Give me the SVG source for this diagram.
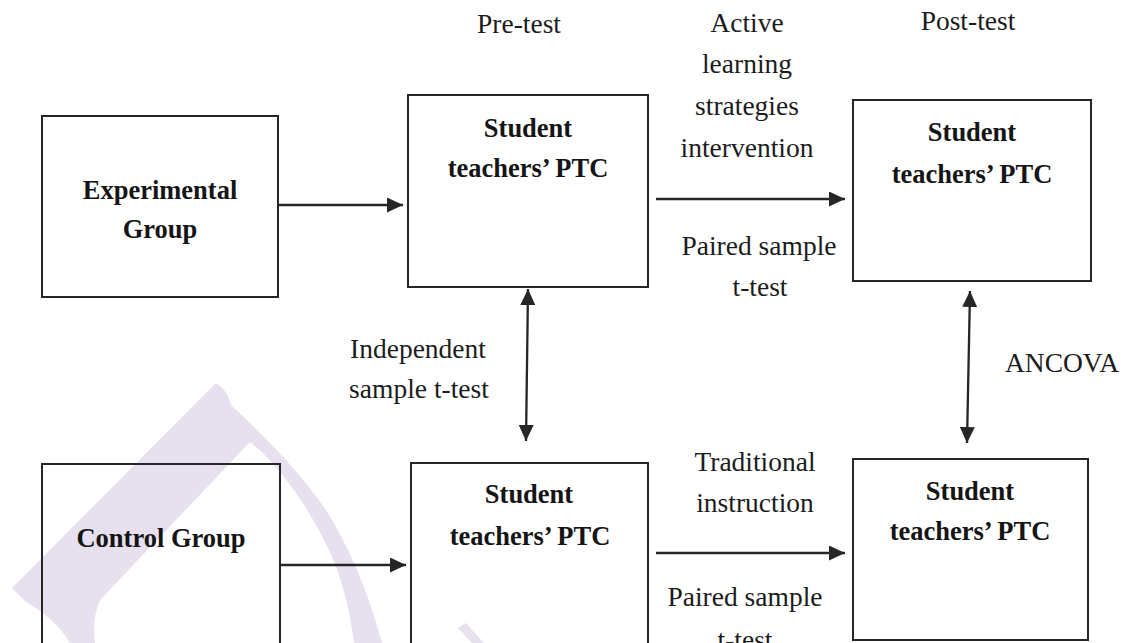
<svg xmlns="http://www.w3.org/2000/svg" width="1126" height="643" viewBox="0 0 1126 643">
  <style>
    .box { fill: none; stroke: #262626; stroke-width: 2; }
    .lbl { font-family: "Liberation Serif", "Times New Roman", serif; font-size: 27.5px; fill: #1c1c1c; text-anchor: middle; }
    .bold { font-family: "Liberation Serif", "Times New Roman", serif; font-size: 26.5px; font-weight: bold; fill: #151515; text-anchor: middle; }
    .conn { stroke: #262626; stroke-width: 2.3; fill: none; }
    .wm { fill: #e6e0ef; }
  </style>
  <defs>
    <marker id="ah" markerUnits="userSpaceOnUse" markerWidth="17" markerHeight="16" viewBox="0 0 17 16" refX="16" refY="7.5" orient="auto-start-reverse">
      <path d="M0,0 L16,7.5 L0,15 Z" fill="#262626"/>
    </marker>
  </defs>
  <rect width="1126" height="643" fill="#ffffff"/>

  <g id="watermark">
    <path class="wm" d="M12,588 L216,383 C223,387 229,395 231,405 C266,438 298,470 326,510 C350,548 368,592 382,643 L354,643 C350,610 342,578 328,548 C312,515 292,483 262,452 L250,442 L100,600 C94,614 93,628 95,643 L70,643 C60,626 44,612 26,602 Z"/>
    <path class="wm" d="M458,628 L466,623 L484,643 L472,643 Z"/>
  </g>

  <g id="connectors">
    <line class="conn" x1="278" y1="205" x2="403" y2="205" marker-end="url(#ah)"/>
    <line class="conn" x1="280" y1="565" x2="406" y2="565" marker-end="url(#ah)"/>
    <line class="conn" x1="656" y1="199" x2="845" y2="199" marker-end="url(#ah)"/>
    <line class="conn" x1="656" y1="553" x2="845" y2="553" marker-end="url(#ah)"/>
    <line class="conn" x1="528" y1="289" x2="526" y2="441" marker-start="url(#ah)" marker-end="url(#ah)"/>
    <line class="conn" x1="970" y1="291" x2="967" y2="443" marker-start="url(#ah)" marker-end="url(#ah)"/>
  </g>

  <g id="labels">
    <text class="lbl" x="519" y="33">Pre-test</text>
    <text class="lbl" x="968" y="30">Post-test</text>
    <text class="lbl" x="747" y="32">Active</text>
    <text class="lbl" x="747" y="73">learning</text>
    <text class="lbl" x="747" y="115">strategies</text>
    <text class="lbl" x="747" y="157">intervention</text>
    <text class="lbl" x="759" y="255">Paired sample</text>
    <text class="lbl" x="760" y="296">t-test</text>
    <text class="lbl" x="418" y="358">Independent</text>
    <text class="lbl" x="419" y="398">sample t-test</text>
    <text class="lbl" x="1062" y="372">ANCOVA</text>
    <text class="lbl" x="755" y="471">Traditional</text>
    <text class="lbl" x="755" y="512">instruction</text>
    <text class="lbl" x="745" y="606">Paired sample</text>
    <text class="lbl" x="745" y="649">t-test</text>
  </g>

  <g id="experimental-group">
    <rect class="box" x="42" y="116" width="236" height="181"/>
    <text class="bold" x="160" y="199">Experimental</text>
    <text class="bold" x="160" y="238">Group</text>
  </g>

  <g id="exp-pretest">
    <rect class="box" x="408" y="95" width="240" height="192"/>
    <text class="bold" x="528" y="137">Student</text>
    <text class="bold" x="528" y="177">teachers’ PTC</text>
  </g>

  <g id="exp-posttest">
    <rect class="box" x="853" y="100" width="238" height="181"/>
    <text class="bold" x="972" y="141">Student</text>
    <text class="bold" x="972" y="183">teachers’ PTC</text>
  </g>

  <g id="control-group">
    <rect class="box" x="42" y="464" width="238" height="200"/>
    <text class="bold" x="161" y="547">Control Group</text>
  </g>

  <g id="ctrl-pretest">
    <rect class="box" x="411" y="463" width="237" height="200"/>
    <text class="bold" x="529" y="503">Student</text>
    <text class="bold" x="530" y="545">teachers’ PTC</text>
  </g>

  <g id="ctrl-posttest">
    <rect class="box" x="853" y="459" width="235" height="181"/>
    <text class="bold" x="970" y="500">Student</text>
    <text class="bold" x="970" y="540">teachers’ PTC</text>
  </g>
</svg>
